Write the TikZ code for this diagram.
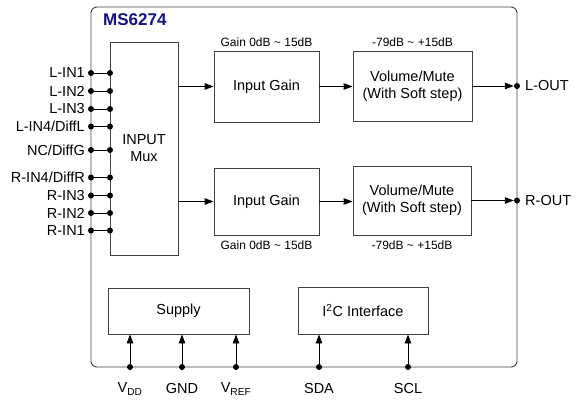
\documentclass[tikz,border=0pt]{standalone}
\usepackage{fontspec}
\setmainfont{Liberation Sans}
\usetikzlibrary{arrows.meta}
\definecolor{chipblue}{RGB}{20,20,130}
\begin{document}
\begin{tikzpicture}[x=1pt,y=-1pt,
  blk/.style={draw=black!75, line width=0.9pt, inner sep=0pt, align=center, font=\fontsize{14.5}{17}\selectfont},
  pin/.style={font=\fontsize{14.5}{17}\selectfont, inner sep=0pt},
  rng/.style={font=\fontsize{12}{14}\selectfont, inner sep=0pt},
  sig/.style={line width=0.9pt, -{Triangle[length=9pt,width=6.5pt]}},
  dot/.style={circle, fill, inner sep=0pt, minimum size=6pt}]
\useasboundingbox (0,0) rectangle (587,405);
% chip outline
\node[draw=black!75, line width=0.9pt, rounded corners=6pt, minimum width=426pt, minimum height=360pt, inner sep=0pt] (chip) at (304,187) {};
\node[anchor=west, inner sep=0pt, text=chipblue, font=\fontsize{17}{20}\selectfont\bfseries] (name) at (103,20) {MS6274};
% blocks
\node[blk, minimum width=68pt, minimum height=213pt] (mux) at (144,148.5) {INPUT\\Mux};
\node[blk, minimum width=105pt, minimum height=71pt] (gainL) at (266.5,86.5) {Input Gain};
\node[blk, minimum width=119pt, minimum height=70pt] (volL) at (412.5,86) {Volume/Mute\\(With Soft step)};
\node[blk, minimum width=105pt, minimum height=67pt] (gainR) at (266.5,201.5) {Input Gain};
\node[blk, minimum width=118pt, minimum height=69pt] (volR) at (412,200.5) {Volume/Mute\\(With Soft step)};
\node[blk, minimum width=141pt, minimum height=46pt] (supply) at (178.5,311) {Supply};
\node[blk, minimum width=130pt, minimum height=47pt] (iic) at (363,310.5) {I\textsuperscript{2}C Interface};
% ranges
\node[rng] (rgL) at (266.5,42) {Gain 0dB \textasciitilde{} 15dB};
\node[rng] (rvL) at (412.5,42) {-79dB \textasciitilde{} +15dB};
\node[rng] (rgR) at (266.5,245) {Gain 0dB \textasciitilde{} 15dB};
\node[rng] (rvR) at (412,245) {-79dB \textasciitilde{} +15dB};
% input pins
\foreach \y/\n/\t in {73/lin1/L-IN1, 91/lin2/L-IN2, 109/lin3/L-IN3, 126.5/lin4/{L-IN4/DiffL}, 150/ncg/{NC/DiffG}, 177.5/rin4/{R-IN4/DiffR}, 195.5/rin3/R-IN3, 213/rin2/R-IN2, 230.5/rin1/R-IN1}{
  \node[dot] (\n-o) at (91,\y) {};
  \node[dot] (\n-i) at (110,\y) {};
  \draw[line width=0.9pt] (\n-o) -- (\n-i);
  \node[pin, anchor=east] (\n-t) at (85,\y) {\t};
}
% signal path
\draw[sig] (mux.east |- gainL.west) -- (gainL.west);
\draw[sig] (mux.east |- gainR.west) -- (gainR.west);
\draw[sig] (gainL.east) -- (volL.west |- gainL.east);
\draw[sig] (gainR.east) -- (volR.west |- gainR.east);
\node[dot] (lout) at (517,86) {};
\node[dot] (rout) at (517,200.5) {};
\draw[sig] (volL.east) -- (lout.west);
\draw[sig] (volR.east) -- (rout.west);
\node[pin, anchor=west] (lout-t) at (525,86) {L-OUT};
\node[pin, anchor=west] (rout-t) at (525,200.5) {R-OUT};
% bottom pins
\foreach \x/\n/\t/\b in {130/vdd/V\textsubscript{DD}/supply, 182/gnd/GND/supply, 236/vref/V\textsubscript{REF}/supply, 319/sda/SDA/iic, 408/scl/SCL/iic}{
  \node[dot] (\n) at (\x,367) {};
  \draw[sig] (\n) -- (\n |- \b.south);
  \node[pin] (\n-t) at (\x,389) {\t};
}
\end{tikzpicture}
\end{document}
